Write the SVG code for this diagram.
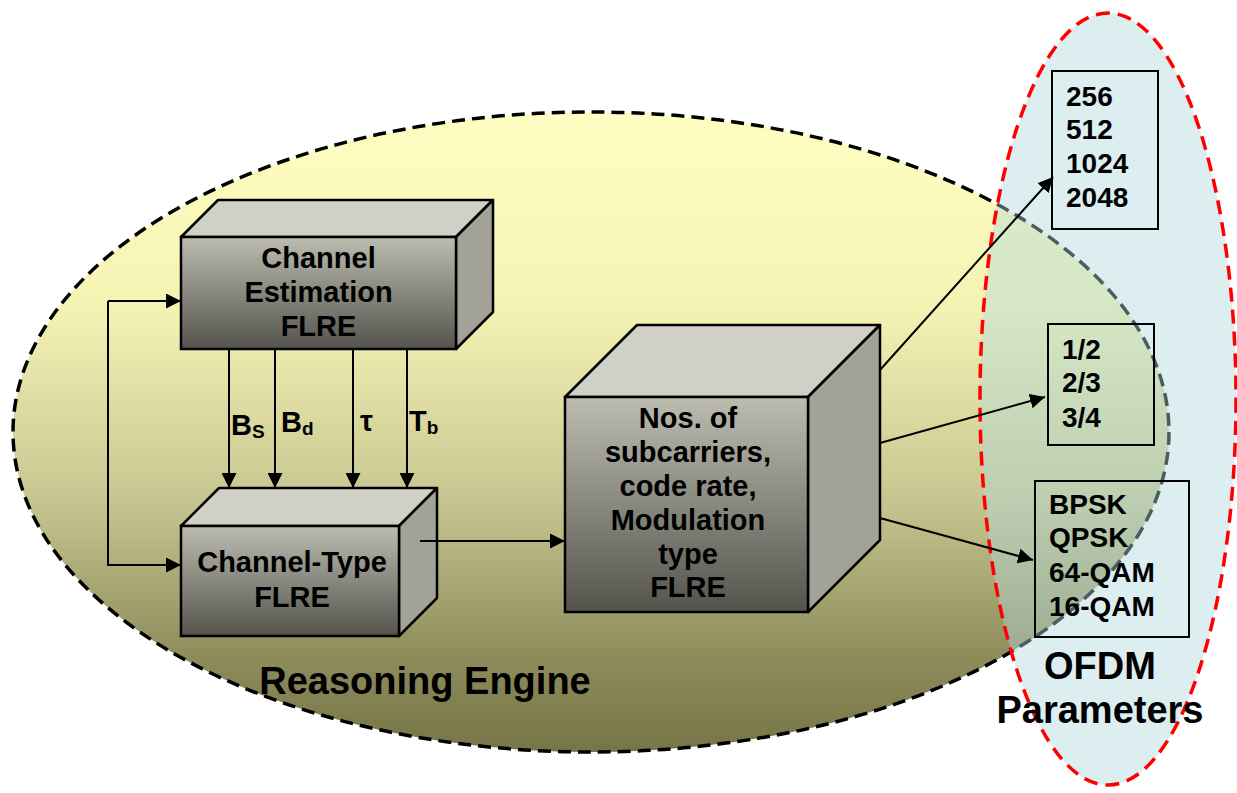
<svg xmlns="http://www.w3.org/2000/svg" width="1237" height="793" viewBox="0 0 1237 793">
<defs>
<linearGradient id="gYellow" x1="0" y1="0" x2="0" y2="1">
<stop offset="0" stop-color="#fffec2"/>
<stop offset="0.3" stop-color="#f5f3b4"/>
<stop offset="0.6" stop-color="#c9c791"/>
<stop offset="0.85" stop-color="#8e8c5b"/>
<stop offset="1" stop-color="#767547"/>
</linearGradient>
<linearGradient id="gFront" x1="0" y1="0" x2="0" y2="1">
<stop offset="0" stop-color="#bcbcb1"/>
<stop offset="1" stop-color="#54544d"/>
</linearGradient>
<marker id="arr" viewBox="0 0 10 10" refX="10" refY="5" markerWidth="15" markerHeight="15" markerUnits="userSpaceOnUse" orient="auto">
<path d="M0,0 L10,5 L0,10 z" fill="#000"/>
</marker>
<style>
.txt{font-family:"Liberation Sans",Arial,sans-serif;font-weight:bold;fill:#000}
.t28{font-size:28px}
.t29{font-size:29px}
.big{font-size:38px}
.front{fill:url(#gFront);stroke:#000;stroke-width:2.5}
.top{fill:#d0d0c6;stroke:#000;stroke-width:2.5;stroke-linejoin:round}
.side{fill:#a2a299;stroke:#000;stroke-width:2.5;stroke-linejoin:round}
.con{fill:none;stroke:#000;stroke-width:2}
.pbox{fill:none;stroke:#000;stroke-width:2}
</style>
</defs>
<rect width="1237" height="793" fill="#fff"/>

<g id="reasoning-engine">
<ellipse cx="591" cy="432" rx="578" ry="320" fill="url(#gYellow)" stroke="#000" stroke-width="3.5" stroke-dasharray="13 7"/>
</g>
<g id="ofdm-region">
<ellipse cx="1108" cy="399" rx="128" ry="386" fill="#aed8dd" fill-opacity="0.43"/>
<ellipse cx="1108" cy="399" rx="128" ry="386" fill="none" stroke="#ff0000" stroke-width="3.5" stroke-dasharray="14 8"/>
</g>

<g id="channel-estimation">
<polygon class="top" points="181,237 218,200 493,200 456,237"/>
<polygon class="side" points="456,237 493,200 493,312 456,349"/>
<rect class="front" x="181" y="237" width="275" height="112"/>
<text class="txt t29" text-anchor="middle"><tspan x="318.5" y="268">Channel</tspan><tspan x="318.5" y="302">Estimation</tspan><tspan x="318.5" y="336">FLRE</tspan></text>
</g>

<g id="channel-type">
<polygon class="top" points="181,526 219,488 437,488 399,526"/>
<polygon class="side" points="399,526 437,488 437,598 399,636"/>
<rect class="front" x="181" y="526" width="218" height="110"/>
<text class="txt t29" text-anchor="middle"><tspan x="292" y="572">Channel-Type</tspan><tspan x="292" y="607">FLRE</tspan></text>
</g>

<g id="ofdm-flre">
<polygon class="top" points="565,397 637,325 880,325 808,397"/>
<polygon class="side" points="808,397 880,325 880,540 808,612"/>
<rect class="front" x="565" y="397" width="243" height="215"/>
<text class="txt t29" text-anchor="middle"><tspan x="688" y="428">Nos. of</tspan><tspan x="688" y="462">subcarriers,</tspan><tspan x="688" y="496">code rate,</tspan><tspan x="688" y="530">Modulation</tspan><tspan x="688" y="564">type</tspan><tspan x="688" y="597">FLRE</tspan></text>
</g>

<g id="connectors">
<line class="con" x1="229" y1="349" x2="229" y2="488" marker-end="url(#arr)"/>
<line class="con" x1="275" y1="349" x2="275" y2="488" marker-end="url(#arr)"/>
<line class="con" x1="353" y1="349" x2="353" y2="488" marker-end="url(#arr)"/>
<line class="con" x1="407" y1="349" x2="407" y2="488" marker-end="url(#arr)"/>
<path class="con" d="M108,301 H181" marker-end="url(#arr)"/>
<path class="con" d="M108,301 V565 H181" marker-end="url(#arr)"/>
<path class="con" d="M420,541 H565" marker-end="url(#arr)"/>
<line class="con" x1="880" y1="370" x2="1053" y2="177" marker-end="url(#arr)"/>
<line class="con" x1="880" y1="443" x2="1045" y2="397" marker-end="url(#arr)"/>
<line class="con" x1="880" y1="518" x2="1033" y2="560" marker-end="url(#arr)"/>
</g>

<g id="edge-labels">
<text class="txt t29" x="231" y="435">B<tspan font-size="19" dy="3">S</tspan></text>
<text class="txt t29" x="281" y="432">B<tspan font-size="19" dy="3">d</tspan></text>
<text class="txt t29" x="360" y="431">τ</text>
<text class="txt t29" x="409" y="431">T<tspan font-size="19" dy="3">b</tspan></text>
</g>

<g id="subcarriers-box">
<rect class="pbox" x="1052" y="71" width="106" height="158"/>
<text class="txt t28"><tspan x="1066" y="106">256</tspan><tspan x="1066" y="139">512</tspan><tspan x="1066" y="173">1024</tspan><tspan x="1066" y="207">2048</tspan></text>
</g>
<g id="coderate-box">
<rect class="pbox" x="1048" y="324" width="106" height="121"/>
<text class="txt t28"><tspan x="1062" y="359">1/2</tspan><tspan x="1062" y="392">2/3</tspan><tspan x="1062" y="427">3/4</tspan></text>
</g>
<g id="modulation-box">
<rect class="pbox" x="1035" y="481" width="154" height="156"/>
<text class="txt t28"><tspan x="1049" y="514">BPSK</tspan><tspan x="1049" y="547">QPSK</tspan><tspan x="1049" y="582">64-QAM</tspan><tspan x="1049" y="616">16-QAM</tspan></text>
</g>

<g id="titles">
<text class="txt big" x="425" y="694" text-anchor="middle">Reasoning Engine</text>
<text class="txt big" text-anchor="middle"><tspan x="1100" y="679">OFDM</tspan><tspan x="1100" y="723">Parameters</tspan></text>
</g>
</svg>
